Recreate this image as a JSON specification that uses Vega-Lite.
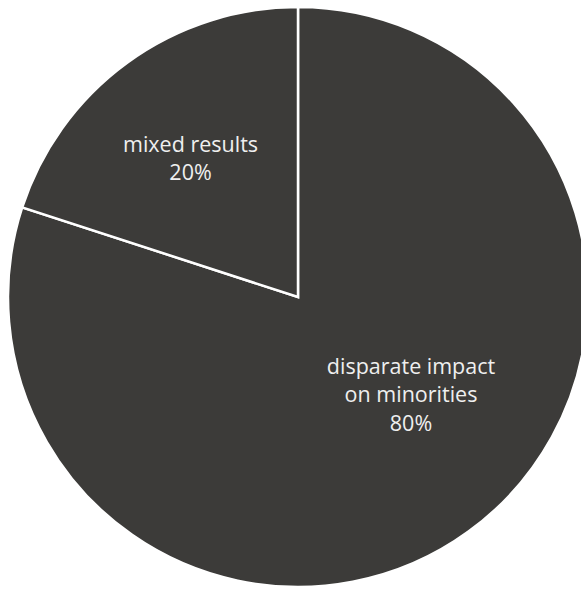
{
  "$schema": "https://vega.github.io/schema/vega-lite/v6.json",
  "width": 581,
  "height": 589,
  "autosize": {"type": "none"},
  "padding": 0,
  "background": "white",
  "config": {"view": {"stroke": null}},
  "data": {
    "values": [
      {"category": "disparate impact on minorities", "share": 80, "label": "disparate impact\non minorities\n80%"},
      {"category": "mixed results", "share": 20, "label": "mixed results\n20%"}
    ]
  },
  "encoding": {
    "theta": {"field": "share", "type": "quantitative", "stack": true},
    "order": {"field": "category", "sort": "ascending"}
  },
  "layer": [
    {
      "mark": {"type": "arc", "outerRadius": 290, "stroke": "white", "strokeWidth": 2.5, "strokeJoin": "miter", "xOffset": 7.5, "yOffset": 2.5},
      "encoding": {
        "color": {"field": "category", "type": "nominal", "legend": null, "scale": {"range": ["#3c3b39", "#3c3b39"]}}
      }
    },
    {
      "mark": {"type": "text", "radius": 176, "font": "Open Sans", "fontSize": 21.5, "lineHeight": 28, "lineBreak": "\n", "color": "#efefef", "align": "center", "baseline": "middle", "xOffset": 7.5, "yOffset": 2.5, "dx": -4, "dy": -9},
      "encoding": {
        "text": {"condition": {"test": "datum.category === 'mixed results'", "field": "label"}, "value": ""}
      }
    },
    {
      "mark": {"type": "text", "radius": 148, "font": "Open Sans", "fontSize": 21.5, "lineHeight": 28.5, "lineBreak": "\n", "color": "#efefef", "align": "center", "baseline": "middle", "xOffset": 7.5, "yOffset": 2.5, "dx": 26, "dy": -49},
      "encoding": {
        "text": {"condition": {"test": "datum.category === 'disparate impact on minorities'", "field": "label"}, "value": ""}
      }
    }
  ]
}
